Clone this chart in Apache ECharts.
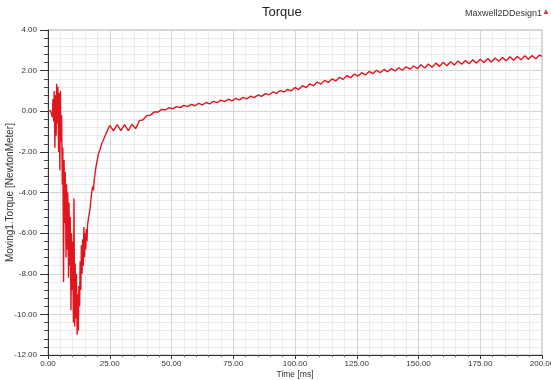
<!DOCTYPE html>
<html>
<head>
<meta charset="utf-8">
<script src="https://cdn.jsdelivr.net/npm/echarts@6/dist/echarts.min.js"></script>
<style>
  html, body { margin: 0; padding: 0; background: #fff; }
  #torque { width: 551px; height: 380px; }
</style>
</head>
<body>
<div id="torque"></div>
<script>
// start-up transient, 0 - 23.5 ms
const startTime = [0, 1, 1.5, 1.8, 2.0, 2.3, 2.5, 2.8, 3.0, 3.3, 3.5, 3.8, 4.0, 4.3, 4.5, 4.8, 5.0, 5.3, 5.5, 5.8,
  6.0, 6.3, 6.5, 6.8, 7.0, 7.3, 7.5, 7.8, 8.0, 8.3, 8.5, 8.8, 9.0, 9.3, 9.5, 9.8, 10.0, 10.3, 10.5, 10.8,
  11.0, 11.3, 11.5, 11.8, 12.0, 12.3, 12.5, 12.8, 13.0, 13.3, 13.5, 13.8, 14.0, 14.3, 14.5, 14.8, 15.0, 15.3, 15.5, 15.8,
  16.0, 16.5, 17.0, 17.7, 18.1, 18.4, 18.7, 19.4, 20.4, 21.3, 21.7, 22.4, 23.5]
const startTorque = [0, 0.03, 0.1, -0.3, 0.6, -0.5, 1.0, -1.8, 0.8, -1.2, 1.35, -0.6, 1.2, -2.0, 0.9, -2.9, 1.0, -1.5, -0.2, -3.6,
  -1.8, -8.4, -2.4, -5.5, -3.0, -7.2, -3.6, -6.8, -4.0, -8.2, -4.5, -7.6, -5.2, -9.8, -6.0, -8.8, -6.4, -10.4, -4.3, -10.6,
  -7.5, -10.2, -8.0, -11.0, -9.0, -10.8, -8.6, -9.6, -7.4, -8.8, -6.6, -8.0, -6.3, -7.6, -5.7, -7.2, -6.0, -6.8, -5.8, -6.4,
  -5.6, -5.2, -4.8, -4.0, -3.7, -3.9, -3.4, -2.75, -2.1, -1.8, -1.6, -1.43, -1.1]

// rippled rise, 25 - 200 ms
const rippleTime = [25, 26.5, 28, 29.5, 31, 32.5, 34, 35.5, 37, 38.5, 40, 41.5, 43, 44.5, 46, 47.5, 49, 50.5, 52, 53.5,
  55, 56.5, 58, 59.5, 61, 62.5, 64, 65.5, 67, 68.5, 70, 71.5, 73, 74.5, 76, 77.5, 79, 80.5, 82, 83.5,
  85, 86.5, 88, 89.5, 91, 92.5, 94, 95.5, 97, 98.5, 100, 101.5, 103, 104.5, 106, 107.5, 109, 110.5, 112, 113.5,
  115, 116.5, 118, 119.5, 121, 122.5, 124, 125.5, 127, 128.5, 130, 131.5, 133, 134.5, 136, 137.5, 139, 140.5, 142, 143.5,
  145, 146.5, 148, 149.5, 151, 152.5, 154, 155.5, 157, 158.5, 160, 161.5, 163, 164.5, 166, 167.5, 169, 170.5, 172, 173.5,
  175, 176.5, 178, 179.5, 181, 182.5, 184, 185.5, 187, 188.5, 190, 191.5, 193, 194.5, 196, 197.5, 199, 200]
const rippleTorque = [-0.70, -0.97, -0.66, -0.95, -0.66, -0.95, -0.64, -0.86, -0.46, -0.42, -0.21, -0.19, -0.03, -0.04, 0.09, 0.06, 0.18, 0.12, 0.23, 0.18,
  0.29, 0.23, 0.34, 0.27, 0.39, 0.31, 0.43, 0.36, 0.49, 0.42, 0.55, 0.47, 0.59, 0.51, 0.63, 0.56, 0.68, 0.61, 0.74, 0.67,
  0.80, 0.73, 0.87, 0.81, 0.95, 0.88, 1.02, 0.95, 1.08, 1.01, 1.17, 1.07, 1.26, 1.16, 1.35, 1.25, 1.44, 1.34, 1.52, 1.42,
  1.59, 1.49, 1.67, 1.57, 1.75, 1.65, 1.83, 1.73, 1.90, 1.79, 1.96, 1.85, 2.02, 1.90, 2.06, 1.94, 2.10, 1.98, 2.14, 2.02,
  2.19, 2.07, 2.23, 2.09, 2.29, 2.13, 2.33, 2.17, 2.37, 2.21, 2.41, 2.24, 2.44, 2.28, 2.47, 2.31, 2.50, 2.34, 2.53, 2.37,
  2.56, 2.40, 2.59, 2.43, 2.62, 2.46, 2.65, 2.48, 2.68, 2.51, 2.70, 2.53, 2.73, 2.56, 2.75, 2.58, 2.77, 2.70]

const xTicks = [0, 25, 50, 75, 100, 125, 150, 175, 200]
const yTicks = [-12, -10, -8, -6, -4, -2, 0, 2, 4]

const times = startTime.concat(rippleTime)
const torque = startTorque.concat(rippleTorque)
const points = times.map((t, i) => [t, torque[i]])

const font = 'Liberation Sans, Arial, sans-serif'

const myChart = echarts.init(document.getElementById('torque'))
const option = {
  animation: false,
  backgroundColor: '#fff',
  grid: {
    left: 48,
    right: 9,
    top: 30,
    bottom: 25,
    outerBoundsMode: 'none',
    containLabel: false,
    show: true,
    borderColor: '#b0b0b0',
    borderWidth: 1
  },
  graphic: [
    {
      type: 'text', left: 262, top: 6,
      style: { text: 'Torque', font: '13px ' + font, fill: '#222' }
    },
    {
      type: 'text', left: 465, top: 9,
      style: { text: 'Maxwell2DDesign1', font: '9px ' + font, fill: '#333' }
    },
    {
      type: 'text', left: 542, top: 8,
      style: { text: '▲', font: '8px ' + font, fill: '#d33' }
    }
  ],
  xAxis: {
    type: 'value',
    min: xTicks[0],
    max: xTicks[xTicks.length - 1],
    interval: 25,
    name: 'Time [ms]',
    nameLocation: 'middle',
    nameGap: 15,
    nameMoveOverlap: false,
    nameTextStyle: { fontFamily: font, fontSize: 8.5, color: '#333' },
    axisLine: { onZero: false, lineStyle: { color: '#333', width: 1 } },
    axisTick: { show: true, length: 4, lineStyle: { color: '#333' } },
    minorTick: { show: true, splitNumber: 5, length: 2, lineStyle: { color: '#555' } },
    axisLabel: {
      fontFamily: font, fontSize: 8, color: '#333', margin: 5,
      formatter: v => v.toFixed(2)
    },
    splitLine: { show: true, lineStyle: { color: '#d4d4d4', width: 1 } },
    minorSplitLine: { show: true, lineStyle: { color: '#ececec', width: 1 } }
  },
  yAxis: {
    type: 'value',
    min: yTicks[0],
    max: yTicks[yTicks.length - 1],
    interval: 2,
    name: 'Moving1.Torque [NewtonMeter]',
    nameLocation: 'middle',
    nameGap: 33,
    nameMoveOverlap: false,
    nameTextStyle: { fontFamily: font, fontSize: 10, color: '#333' },
    axisLine: { show: true, lineStyle: { color: '#333', width: 1 } },
    axisTick: { show: true, length: 8, lineStyle: { color: '#333' } },
    minorTick: { show: true, splitNumber: 5, length: 4, lineStyle: { color: '#444' } },
    axisLabel: {
      fontFamily: font, fontSize: 8, color: '#333', margin: 11,
      formatter: v => v.toFixed(2)
    },
    splitLine: { show: true, lineStyle: { color: '#d4d4d4', width: 1 } },
    minorSplitLine: { show: true, lineStyle: { color: '#ececec', width: 1 } }
  },
  series: [
    {
      name: 'Torque',
      type: 'line',
      data: points,
      showSymbol: false,
      sampling: 'none',
      lineStyle: { color: '#e0161e', width: 1.4 }
    }
  ]
}
myChart.setOption(option)
</script>
</body>
</html>
